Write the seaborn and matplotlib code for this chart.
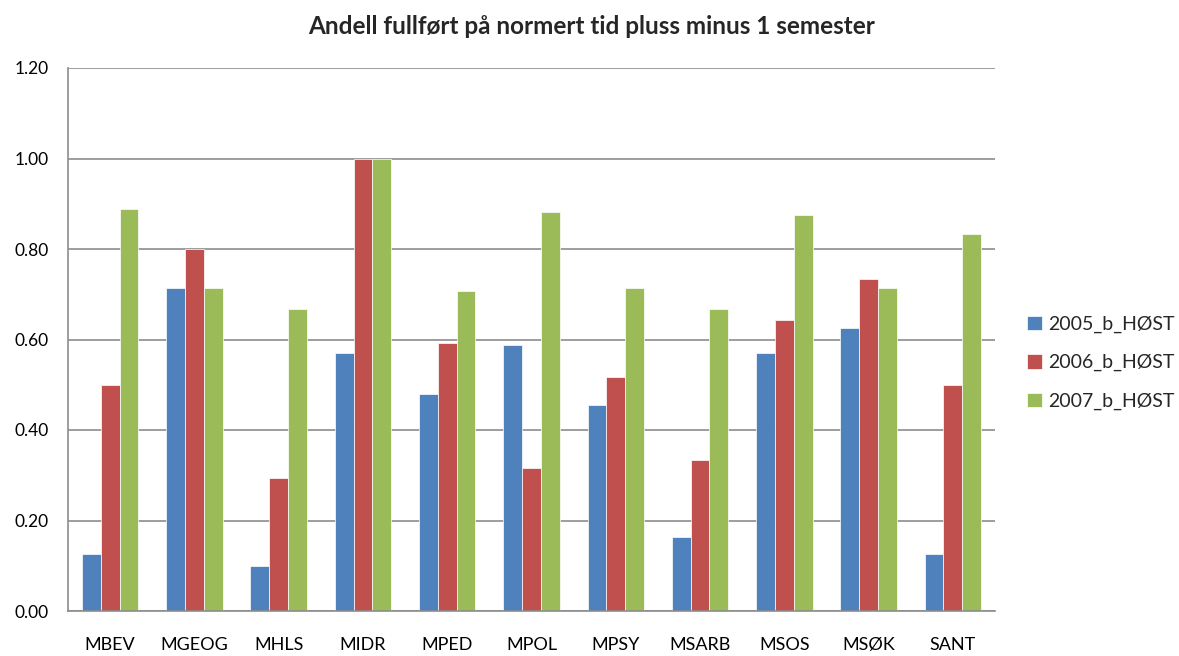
import matplotlib
matplotlib.use("Agg")
import matplotlib.pyplot as plt
import seaborn as sns
import pandas as pd
import numpy as np

categories = ["MBEV", "MGEOG", "MHLS", "MIDR", "MPED", "MPOL", "MPSY", "MSARB", "MSOS", "MSØK", "SANT"]
series_names = ["2005_b_HØST", "2006_b_HØST", "2007_b_HØST"]
v2005 = [0.125, 0.714, 0.100, 0.571, 0.480, 0.588, 0.455, 0.164, 0.571, 0.625, 0.125]
v2006 = [0.500, 0.800, 0.294, 1.000, 0.593, 0.316, 0.517, 0.333, 0.643, 0.733, 0.500]
v2007 = [0.889, 0.714, 0.667, 1.000, 0.708, 0.882, 0.714, 0.667, 0.875, 0.714, 0.833]
colors = ["#4F81BD", "#C0504D", "#9BBB59"]
title = "Andell fullført på normert tid pluss minus 1 semester"
yticks = [0.0, 0.2, 0.4, 0.6, 0.8, 1.0, 1.2]

rows = []
for name, vals in zip(series_names, [v2005, v2006, v2007]):
    for c, v in zip(categories, vals):
        rows.append({"Program": c, "Serie": name, "Andel": v})
df = pd.DataFrame(rows)

sns.set_theme(style="white")
plt.rcParams["font.family"] = ["Lato", "DejaVu Sans"]

fig = plt.figure(figsize=(11.79, 6.56), dpi=100)
ax = fig.add_axes([68/1179, 1 - 611/656, (995-68)/1179, (611-68)/656])

sns.barplot(data=df, x="Program", y="Andel", hue="Serie", order=categories,
            hue_order=series_names, palette=colors, width=0.67, gap=0,
            saturation=1, edgecolor="white", linewidth=0.5, ax=ax)

ax.set_xlim(-0.5, len(categories) - 0.5)
ax.set_ylim(0, 1.2)
ax.set_yticks(yticks)
ax.set_yticklabels([f"{t:.2f}" for t in yticks])
ax.yaxis.grid(True, color="#8c8c8c", linewidth=1.2)
ax.set_axisbelow(True)
ax.set_xlabel("")
ax.set_ylabel("")

for s in ["top", "right"]:
    ax.spines[s].set_visible(False)
for s in ["left", "bottom"]:
    ax.spines[s].set_color("#8c8c8c")
    ax.spines[s].set_linewidth(1.2)

ax.tick_params(axis="x", which="major", length=0, labelsize=13, pad=19, colors="black")
ax.set_xticks(np.arange(-0.5, len(categories), 1.0), minor=True)
ax.tick_params(axis="x", which="minor", length=5, width=1.2, color="#8c8c8c", direction="out")
ax.tick_params(axis="y", length=5, width=1.2, color="#8c8c8c", direction="out", labelsize=12.5, pad=9)
for lab in ax.get_xticklabels() + ax.get_yticklabels():
    lab.set_color("black")

fig.text(592/1179, 1 - 27/656, title, ha="center", va="center", fontsize=17.5, fontweight="bold")

handles, labels = ax.get_legend_handles_labels()
ax.legend(handles, labels, loc="center left", bbox_to_anchor=(1.035, 0.457), frameon=False,
          borderaxespad=0, borderpad=0,
          fontsize=14, handlelength=0.75, handleheight=0.75, handletextpad=0.3, labelspacing=1.1)

fig.savefig("out.png", dpi=100)
